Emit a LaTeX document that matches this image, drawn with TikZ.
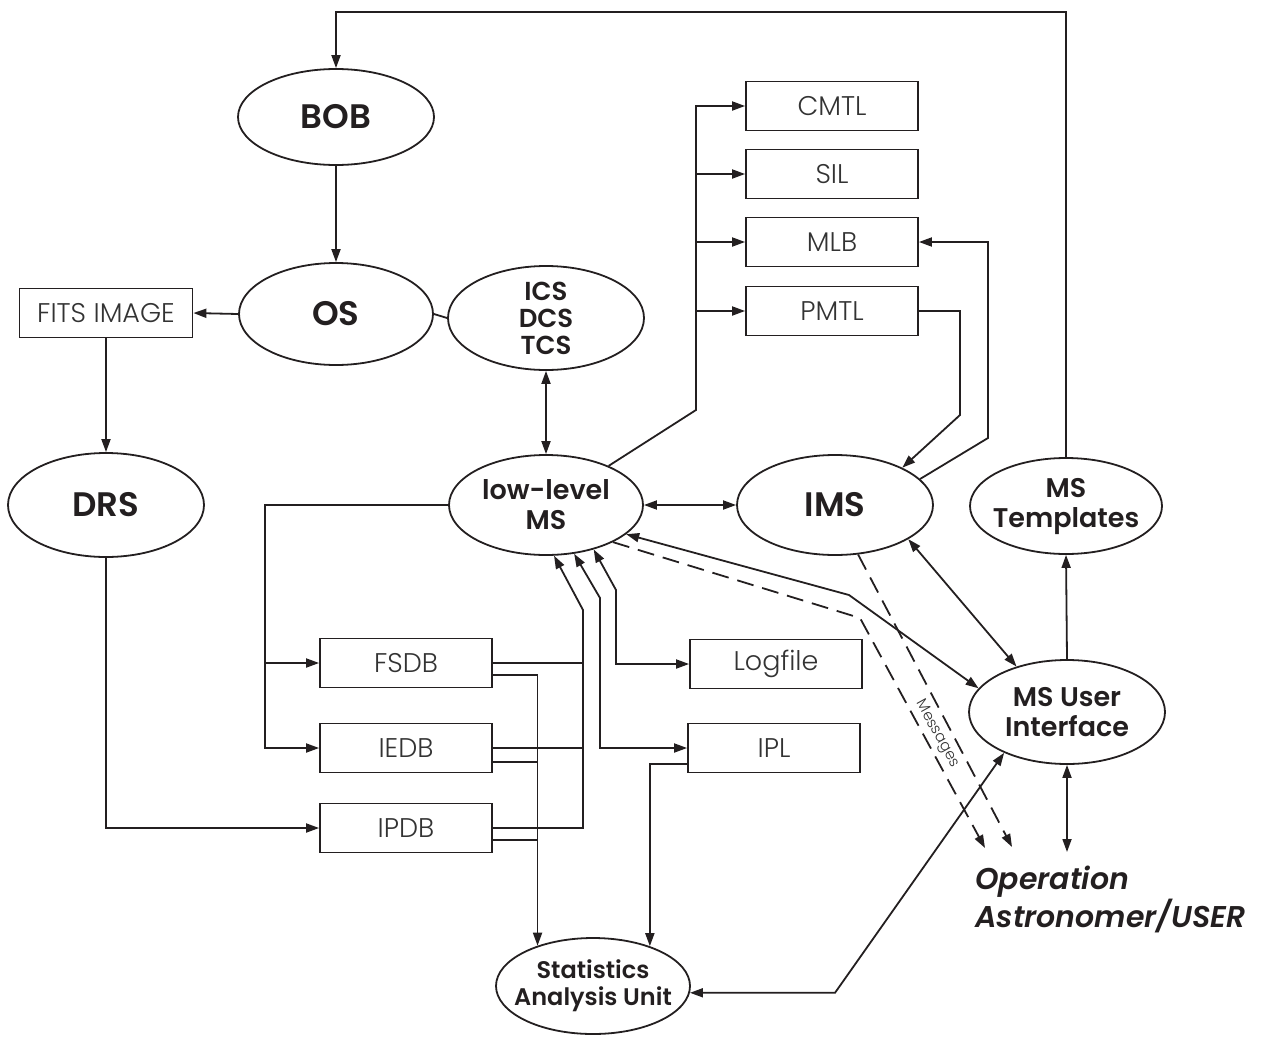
\documentclass[tikz,border=0pt]{standalone}
\usepackage{fontspec}
\setmainfont{Poppins Light}[BoldFont={Poppins SemiBold}, ItalicFont={Poppins Light Italic}, BoldItalicFont={Poppins SemiBold Italic}]
\usetikzlibrary{shapes.geometric,arrows.meta,calc}
\definecolor{ink}{HTML}{231F20}
\definecolor{soft}{HTML}{333333}
\newcommand\myBig{\fontsize{34}{36}\selectfont\bfseries}
\newcommand\myTwo{\fontsize{27}{30}\selectfont\bfseries}
\newcommand\myThree{\fontsize{26}{27}\selectfont\bfseries}
\newcommand\myStat{\fontsize{24}{27}\selectfont\bfseries}
\newcommand\myBox{\fontsize{27}{30}\selectfont}
\newcommand\myOp{\fontsize{30}{33}\selectfont\bfseries\itshape}
\newcommand\myMsg{\fontsize{15}{17}\selectfont}
\begin{document}
\begin{tikzpicture}[x=1pt,y=-1pt,
  >={Stealth[length=13pt,width=9pt,inset=0pt]},
  ell/.style={ellipse, draw=ink, line width=1.8pt, inner xsep=-60pt, inner ysep=-30pt, align=center, text=ink},
  bx/.style={rectangle, draw=ink, line width=1.8pt, inner sep=0pt, minimum width=172, minimum height=49, font=\myBox, text=soft},
  ln/.style={draw=ink, line width=1.8pt},
  dsh/.style={draw=ink, line width=1.8pt, dash pattern=on 17pt off 9pt}]
\useasboundingbox (0,0) rectangle (1273,1036);

% ellipses
\node[ell, minimum width=196, minimum height=96, font=\myBig] (bob) at (336,117) {BOB};
\node[ell, minimum width=194, minimum height=102, font=\myBig] (os) at (336,314) {OS};
\node[ell, minimum width=196, minimum height=104, font=\myThree] (ics) at (546,318) {ICS\\DCS\\TCS};
\node[ell, minimum width=196, minimum height=104, font=\myBig] (drs) at (106,505) {DRS};
\node[ell, minimum width=194, minimum height=100, font=\myTwo] (lms) at (546,505) {low-level\\MS};
\node[ell, minimum width=196, minimum height=100, font=\myBig] (ims) at (835,505) {IMS};
\node[ell, minimum width=192, minimum height=96, font=\myTwo] (mst) at (1066,506) {MS\\Templates};
\node[ell, minimum width=196, minimum height=104, font=\myTwo] (ui) at (1067,712) {MS User\\Interface};
\node[ell, minimum width=194, minimum height=96, font=\myStat] (stats) at (593,986) {Statistics\\Analysis Unit};

% boxes
\node[bx, minimum width=173] (fits) at (106,313) {FITS IMAGE};
\node[bx] (cmtl) at (832,106) {CMTL};
\node[bx] (sil) at (832,174) {SIL};
\node[bx] (mlb) at (832,242) {MLB};
\node[bx] (pmtl) at (832,311) {PMTL};
\node[bx] (fsdb) at (406,663) {FSDB};
\node[bx] (iedb) at (406,748) {IEDB};
\node[bx] (ipdb) at (406,828) {IPDB};
\node[bx] (logfile) at (776,664) {Logfile};
\node[bx] (ipl) at (774,748) {IPL};

% texts
\node[font=\myOp, text=ink, align=left, anchor=north west, inner sep=0pt] (op) at (975,866) {Operation\\Astronomer/USER};
\node[font=\myMsg, text=soft, rotate=-61, inner sep=0pt] (msg) at (937,734) {Messages};

% helper coordinates
\coordinate (top) at (0,12);
\coordinate (lx) at (265,0);
\coordinate (t1) at (583,610);
\coordinate (t2) at (600,598);
\coordinate (t3) at (616,590);
\coordinate (ct) at (696,410);
\coordinate (p1) at (960,415);
\coordinate (p2) at (988,438);
\coordinate (b1) at (849,595);
\coordinate (d1) at (860,618);
\coordinate (m1) at (985,848);
\coordinate (m2) at (1012,847);
\coordinate (m3) at (1067,852);
\coordinate (u1) at (835,0);
\coordinate (fs2) at ([yshift=-12pt]fsdb.east);
\coordinate (ie2) at ([yshift=-14pt]iedb.east);
\coordinate (ip2) at ([yshift=-12pt]ipdb.east);
\coordinate (il2) at ([yshift=-16pt]ipl.west);

% connectors
\draw[ln,->] (mst.north) -- (mst.north |- top) -| (bob.north);
\draw[ln,->] (bob.south) -- (os.north);
\draw[ln,->] (os.west) -- (fits.east);
\draw[ln] (os.east) -- (ics.west);
\draw[ln,->] (fits.south) -- (drs.north);
\draw[ln,->] (drs.south) |- (ipdb.west);
\draw[ln,<->] (ics.south) -- (lms.north);
\draw[ln,<->] (lms.east) -- (ims.west);

\draw[ln,->] (lms.west) -| (lx |- iedb.west) -- (iedb.west);
\draw[ln,->] (lx |- fsdb.west) -- (fsdb.west);

\draw[ln,->] (ipdb.east) -| (t1) -- (lms.-81);
\draw[ln] (fsdb.east) -- (fsdb.east -| t1);
\draw[ln] (iedb.east) -- (iedb.east -| t1);
\draw[ln,<->] (lms.-60) -- (t2) |- (ipl.west);
\draw[ln,<->] (lms.-43) -- (t3) |- (logfile.west);

\draw[ln,->] (fs2) -| (stats.144);
\draw[ln] (ie2) -- (ie2 -| stats.144);
\draw[ln] (ip2) -- (ip2 -| stats.144);
\draw[ln,->] (il2) -| (stats.35);

\draw[ln,->] (lms.32) -- (ct) |- (cmtl.west);
\draw[ln,->] (ct |- sil.west) -- (sil.west);
\draw[ln,->] (ct |- mlb.west) -- (mlb.west);
\draw[ln,->] (ct |- pmtl.west) -- (pmtl.west);

\draw[ln,->] (pmtl.east) -| (p1) -- (ims.29);
\draw[ln,->] (ims.17) -- (p2) |- (mlb.east);

\draw[ln,<->] (ims.-25) -- (ui.138);
\draw[ln,<->] (lms.-20) -- (b1) -- (ui.165);
\draw[dsh,->] (lms.-29) -- (d1) -- (m1);
\draw[dsh,->] (ims.-65) -- (m2);
\draw[ln,<->] (ui.-147) -- (u1 |- stats.-4) -- (stats.-4);
\draw[ln,->] (ui.north) -- (mst.south);
\draw[ln,<->] (ui.south) -- (m3);
\end{tikzpicture}
\end{document}
